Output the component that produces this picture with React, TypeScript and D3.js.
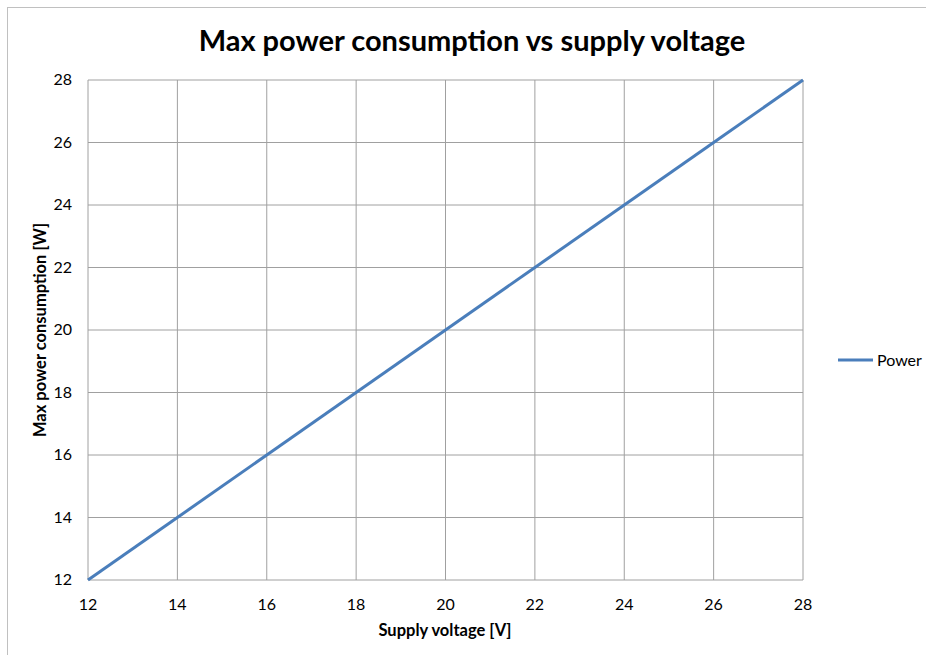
import React from 'react';
import { scaleLinear, line } from 'd3';

const voltages = [12, 14, 16, 18, 20, 22, 24, 26, 28]
const power = [12, 14, 16, 18, 20, 22, 24, 26, 28]
const xTicks = [12, 14, 16, 18, 20, 22, 24, 26, 28]
const yTicks = [12, 14, 16, 18, 20, 22, 24, 26, 28]
const seriesName = 'Power'

const W = 926
const H = 655
const plot = { left: 88, right: 803, top: 80, bottom: 580 }
const font = 'Lato, "Open Sans", sans-serif'

function App() {
  const x = scaleLinear().domain([12, 28]).range([plot.left, plot.right])
  const y = scaleLinear().domain([12, 28]).range([plot.bottom, plot.top])
  const pts = voltages.map((v, i) => [v, power[i]] as [number, number])
  const path = line<[number, number]>().x(d => x(d[0])).y(d => y(d[1]))(pts) || ''

  return (
    <svg width={W} height={H} style={{ position: 'absolute', left: 0, top: 0 }} fontFamily={font}>
      <rect x={0} y={0} width={W} height={H} fill="#fff" />
      <rect x={7.5} y={7.5} width={W + 10} height={H + 10} fill="none" stroke="#c0c0c0" />
      <text x={472} y={51} textAnchor="middle" fontSize={29} fontWeight="bold" fill="#000">
        Max power consumption vs supply voltage
      </text>
      {xTicks.map(t => (
        <line key={'gx' + t} x1={x(t)} x2={x(t)} y1={plot.top} y2={plot.bottom} stroke="#a0a0a0" />
      ))}
      {yTicks.map(t => (
        <line key={'gy' + t} x1={plot.left} x2={plot.right} y1={y(t)} y2={y(t)} stroke="#a0a0a0" />
      ))}
      {xTicks.map(t => (
        <text key={'tx' + t} x={x(t)} y={610} textAnchor="middle" fontSize={16} fill="#000">{t}</text>
      ))}
      {yTicks.map(t => (
        <text key={'ty' + t} x={72} y={y(t) + 5} textAnchor="end" fontSize={16} fill="#000">{t}</text>
      ))}
      <path d={path} fill="none" stroke="#4a7ebb" strokeWidth={3} />
      <text x={445} y={636} textAnchor="middle" fontSize={16.5} fontWeight="bold" fill="#000">
        Supply voltage [V]
      </text>
      <text transform="translate(46,330) rotate(-90)" textAnchor="middle" fontSize={16.5} fontWeight="bold" fill="#000">
        Max power consumption [W]
      </text>
      <line x1={838} x2={873} y1={360} y2={360} stroke="#4a7ebb" strokeWidth={3} />
      <text x={877} y={366} fontSize={16} fill="#000">{seriesName}</text>
    </svg>
  );
}

export default App;
